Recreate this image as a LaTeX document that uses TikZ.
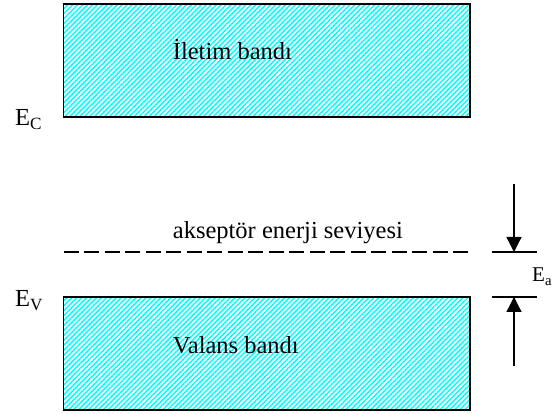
\documentclass[tikz,border=0pt]{standalone}
\usepackage{fontspec}
\setmainfont{Liberation Serif}
\usetikzlibrary{patterns.meta,arrows.meta}
\colorlet{bandfill}{cyan}
\tikzset{
  band/.style={rectangle,draw,line width=1.6pt,inner sep=0pt,
    minimum width=406.5pt,minimum height=113pt,
    pattern={Lines[angle=45,distance=3.5pt,line width=1.5pt]},pattern color=bandfill},
  label/.style={anchor=base west,inner sep=0pt,font=\fontsize{24.5}{29}\selectfont},
  level/.style={line width=1.4pt,dash pattern=on 15pt off 5.5pt},
  tick/.style={line width=1.3pt},
  gap/.style={-{Triangle[width=15pt,length=15pt]},line width=1.3pt},
}

\begin{document}
\begin{tikzpicture}[x=1pt,y=1pt]
  \useasboundingbox (0,0) rectangle (555,414);
  % the two bands
  \node [band] (iletim) at (266.75,353.5) {};
  \node [band] (valans) at (266.75,60.5) {};
  \node [label] (iletimtxt) at (172.7,354) {İletim bandı};
  \node [label] (valanstxt) at (172.7,60) {Valans bandı};
  \node [label] (ec) at (15,288) {E\textsubscript{C}};
  \node [label] (ev) at (15,107.3) {E\textsubscript{V}};
  % acceptor level
  \coordinate (akL) at (63.5,162);
  \coordinate (akR) at (470,162);
  \draw [level] (akL) -- (akR);
  \node [label] (aktxt) at (172.7,175.7) {akseptör enerji seviyesi};
  % E_a marks
  \foreach \n/\y in {a/162,v/117}
  {
    \coordinate (\n1) at (492,\y);
    \coordinate (\n2) at (537,\y);
    \coordinate (\n0) at (514,\y);
    \draw [tick] (\n1) -- (\n2);
  }
  \coordinate (atail) at (514,230);
  \coordinate (vtail) at (514,48);
  \draw [gap] (atail) -- (a0);
  \draw [gap] (vtail) -- (v0);
  \node [label,font=\fontsize{21}{25}\selectfont] (ea) at (532,132) {E\textsubscript{a}};
\end{tikzpicture}
\end{document}
